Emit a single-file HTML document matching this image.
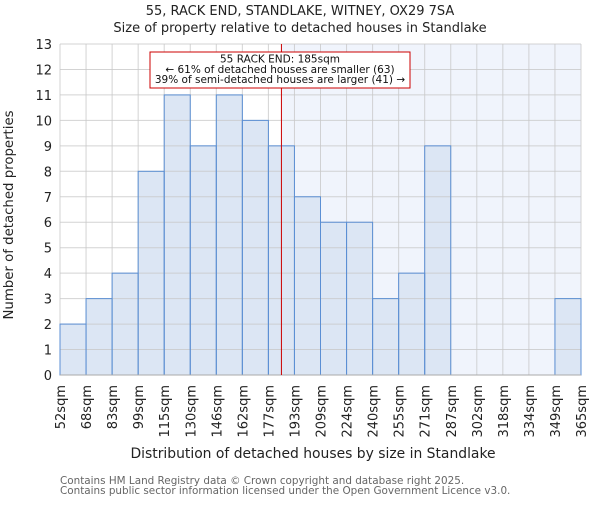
<!DOCTYPE html>
<html><head><meta charset="utf-8"><style>
body{margin:0;background:#fff;}
svg text{font-family:"DejaVu Sans","Liberation Sans",sans-serif;}
</style></head><body>
<svg id="chart" width="600" height="500" xmlns="http://www.w3.org/2000/svg">
<text x="300" y="15" text-anchor="middle" font-size="13" fill="#222">55, RACK END, STANDLAKE, WITNEY, OX29 7SA</text>
<text x="300" y="32" text-anchor="middle" font-size="13" fill="#222">Size of property relative to detached houses in Standlake</text>
<g id="plot"></g>
<text x="313" y="458" text-anchor="middle" font-size="13.9" fill="#222">Distribution of detached houses by size in Standlake</text>
<text transform="translate(13,215) rotate(-90)" text-anchor="middle" font-size="13.3" fill="#222">Number of detached properties</text>
<text x="60" y="484" font-size="10.4" fill="#666">Contains HM Land Registry data © Crown copyright and database right 2025.</text>
<text x="60" y="494" font-size="10.4" fill="#666">Contains public sector information licensed under the Open Government Licence v3.0.</text>
</svg>
<script>
const binLabels=["52sqm","68sqm","83sqm","99sqm","115sqm","130sqm","146sqm","162sqm","177sqm","193sqm","209sqm","224sqm","240sqm","255sqm","271sqm","287sqm","302sqm","318sqm","334sqm","349sqm","365sqm"];
const counts=[2,3,4,8,11,9,11,10,9,7,6,6,3,4,9,0,0,0,0,3];
const yTicks=[0,1,2,3,4,5,6,7,8,9,10,11,12,13];
const binEdges=[52,68,83,99,115,130,146,162,177,193,209,224,240,255,271,287,302,318,334,349,365];
const markerValue=185;
const L=60,R=581,T=44,B=375,YMAX=13;
const NS="http://www.w3.org/2000/svg";
const g=document.getElementById('plot');
const xi=i=>L+(R-L)*i/counts.length;
const y=v=>B-(B-T)*v/YMAX;
function xv(v){for(let i=0;i<binEdges.length-1;i++){if(v<=binEdges[i+1])return xi(i)+(xi(i+1)-xi(i))*(v-binEdges[i])/(binEdges[i+1]-binEdges[i]);}return R;}
function mk(tag,attrs){const e=document.createElementNS(NS,tag);for(const k in attrs)e.setAttribute(k,attrs[k]);g.appendChild(e);return e;}
const mx=xv(markerValue);
let e=mk('rect',{x:mx,y:T,width:R-mx,height:B-T,fill:'#f0f4fc'});


counts.forEach((c,i)=>{if(c<=0)return;
const r=mk('rect',{x:xi(i),y:y(c),width:xi(i+1)-xi(i),height:B-y(c),fill:'#dce6f4'});

});
yTicks.forEach(t=>{const l=mk('line',{x1:L,x2:R,y1:y(t),y2:y(t),stroke:'#c8c8c8','stroke-width':1,'stroke-opacity':0.8});


const tx=mk('text',{x:L-8,y:y(t)+5,'text-anchor':'end','font-size':13,fill:'#222'});tx.textContent=t;

});
binLabels.forEach((lb,i)=>{const x=xi(i);
const l=mk('line',{x1:x,x2:x,y1:T,y2:B,stroke:'#c8c8c8','stroke-width':1,'stroke-opacity':0.8});


const tx=mk('text',{transform:`translate(${x+5},${B+10}) rotate(-90)`,'text-anchor':'end','font-size':13,fill:'#222'});tx.textContent=lb;

});
counts.forEach((c,i)=>{if(c<=0)return;
const r=mk('rect',{x:xi(i),y:y(c),width:xi(i+1)-xi(i),height:B-y(c),fill:'none',stroke:'#5b8fd4','stroke-width':1});

});
e=mk('line',{x1:L,x2:R,y1:B,y2:B,stroke:'#aaa'});


e=mk('line',{x1:mx,x2:mx,y1:T,y2:B,stroke:'#c00','stroke-width':1});


e=mk('rect',{x:150,y:52,width:260,height:36,fill:'#fff',stroke:'#c00','stroke-width':1});


["55 RACK END: 185sqm","← 61% of detached houses are smaller (63)","39% of semi-detached houses are larger (41) →"].forEach((s,k)=>{
const t=mk('text',{x:280,y:62.5+k*10.3,'text-anchor':'middle','font-size':10.5,fill:'#111'});t.textContent=s;

});
</script>
</body></html>
